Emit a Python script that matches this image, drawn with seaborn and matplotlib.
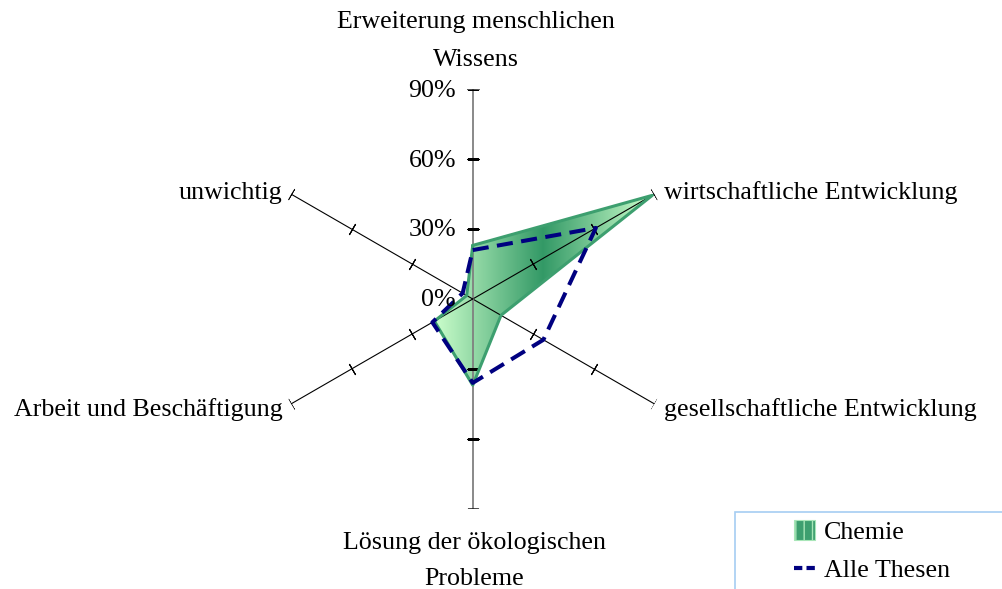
import numpy as np
import matplotlib
matplotlib.use("Agg")
import matplotlib.pyplot as plt
import seaborn as sns
from matplotlib.colors import to_rgb
from matplotlib.patches import Patch, Rectangle
from matplotlib.lines import Line2D

# Radar data (clockwise from top)
categories = ["Erweiterung menschlichen\nWissens", "wirtschaftliche Entwicklung",
              "gesellschaftliche Entwicklung", "Lösung der ökologischen\nProbleme",
              "Arbeit und Beschäftigung", "unwichtig"]
chemie = [23, 89, 14, 37, 19, 3]
alle_thesen = [21, 61, 35, 36, 20, 5]
r_ticks = [0, 30, 60, 90]
r_labels = ["0%", "30%", "60%", "90%"]
series_names = ["Chemie", "Alle Thesen"]

sns.set_theme(style="white")
plt.rcParams["font.family"] = ["Liberation Serif", "DejaVu Serif"]
plt.rcParams["text.color"] = "black"
FS = 18.7

fig = plt.figure(figsize=(10.02, 5.89), dpi=100)
ax = fig.add_axes([0.2625, 0.1363, 0.4186, 0.7121], projection="polar")
ax.set_theta_offset(np.pi / 2)
ax.set_theta_direction(-1)
ax.set_xlim(0, 2 * np.pi)
ax.set_ylim(0, 90)
ax.grid(False)
ax.spines["polar"].set_visible(False)
ax.set_xticks([])
ax.set_yticks([])
ax.patch.set_visible(False)

theta = np.deg2rad(np.arange(len(categories)) * 360 / len(categories))
theta_c = np.append(theta, 2 * np.pi)
chem_c = np.append(chemie, chemie[0])
alle_c = np.append(alle_thesen, alle_thesen[0])

# Chemie area with a horizontal gradient (light edges, dark middle)
poly = ax.fill(theta_c, chem_c, color="#66bb88", lw=0, zorder=1)[0]
pts = ax.transAxes.inverted().transform(
    ax.transData.transform(np.column_stack([theta, chemie])))
x0, x1 = pts[:, 0].min(), pts[:, 0].max()
y0, y1 = pts[:, 1].min(), pts[:, 1].max()
light = np.array(to_rgb("#ccffcc"))
dark = np.array(to_rgb("#339966"))
t = np.abs(np.linspace(-1, 1, 256))[None, :, None]
img = dark * (1 - t) + light * t
img = np.repeat(img, 2, axis=0)
im = ax.imshow(img, extent=(x0, x1, y0, y1), transform=ax.transAxes,
               aspect="auto", interpolation="bilinear", zorder=1.5)
im.set_clip_path(poly)
ax.set_xlim(0, 2 * np.pi)
ax.set_ylim(0, 90)

# spokes with tick marks
for i, th in enumerate(theta):
    vertical = i in (0, 3)
    ax.plot([th, th], [0, 90], color="#808080" if vertical else "black",
            lw=1.3 if vertical else 0.8, zorder=2)
    phi = 90 - np.rad2deg(th)
    ax.plot([th] * 3, r_ticks[1:], ls="none", marker=(2, 2, phi), ms=9,
            mec="black", mew=0.8, zorder=2)

# series outlines
sns.lineplot(x=theta_c, y=chem_c, ax=ax, sort=False, estimator=None,
             color="#3d9f6f", lw=2.2, zorder=2.5)
sns.lineplot(x=theta_c, y=alle_c, ax=ax, sort=False, estimator=None,
             color="#000080", lw=2.9, linestyle=(0, (4, 2.1)), zorder=3)
ax.set_xlabel("")
ax.set_ylabel("")

# value labels on the top spoke
for v, lab in zip(r_ticks, r_labels):
    ax.annotate(lab, xy=(0, v), xytext=(-12, -1), textcoords="offset points",
                ha="right", va="center", fontsize=FS, zorder=4,
                annotation_clip=False)

# category labels
label_pos = [((2.5, 34.7), "center", "center"),
             ((7, 1), "left", "center"),
             ((7, -4), "left", "center"),
             ((1, -37.5), "center", "center"),
             ((-6, -4), "right", "center"),
             ((-6, 1), "right", "center")]
for th, lab, (off, ha, va) in zip(theta, categories, label_pos):
    ax.annotate(lab, xy=(th, 90), xytext=off, textcoords="offset points",
                ha=ha, va=va, fontsize=FS,
                linespacing=1.95 if th != theta[3] else 1.85,
                multialignment="center", annotation_clip=False)

# legend box (runs off the right/bottom edge)
fig.add_artist(Rectangle((735 / 1002, -0.05), 0.3, 1 - 512 / 589 + 0.05,
                         transform=fig.transFigure, facecolor="white",
                         edgecolor="#a6cdf2", lw=1.2, zorder=0))
handles = [Patch(facecolor="#3d9f6f", edgecolor="#a8e6b8", hatch="||", lw=0.8),
           Line2D([0], [0], color="#000080", lw=3, linestyle=(0, (2, 1)))]
fig.legend(handles, series_names, loc="center left",
           bbox_to_anchor=(781 / 1002, 1 - 551 / 589), frameon=False,
           fontsize=FS, handlelength=0.8, handleheight=0.8,
           handletextpad=0.35, labelspacing=0.55, borderpad=0)

fig.savefig("out.png", dpi=100)
